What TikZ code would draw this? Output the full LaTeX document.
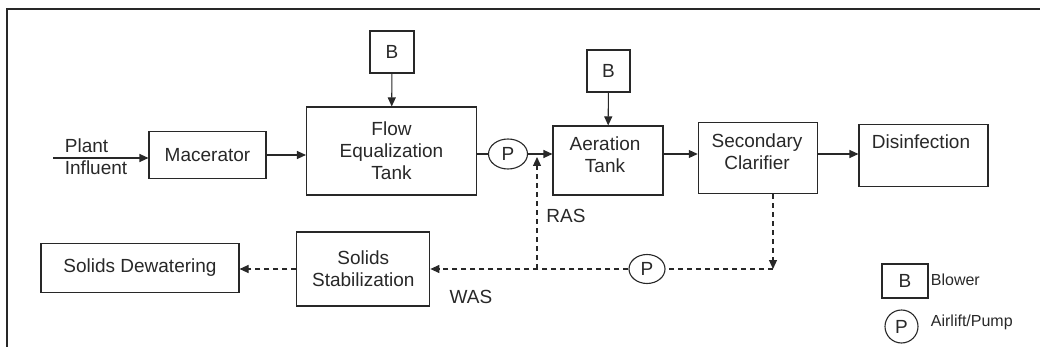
\documentclass[tikz,border=0pt]{standalone}
\usepackage{fontspec}
\setmainfont{Liberation Sans}
\usepackage{tikz}
\usetikzlibrary{arrows.meta,shapes.geometric}
\definecolor{linegray}{RGB}{40,40,40}

\begin{document}
\begin{tikzpicture}[x=1pt,y=-1pt,line width=1.1pt,color=linegray,
  font=\fontsize{19}{22}\selectfont,
  unit/.style={draw,inner sep=2pt,align=center},
  pump/.style={draw,ellipse,inner sep=0pt},
  flow/.style={-{Triangle[length=9pt,width=8pt]}},
  sludge/.style={dash pattern=on 5pt off 4pt},
  legtext/.style={anchor=west,font=\fontsize{16}{19}\selectfont}]
\useasboundingbox (0,0) rectangle (1040,347);
\draw (7,347) -- (7,9) -- (1040,9);

\node[unit,minimum width=117,minimum height=47] (mac) at (207.5,155) {Macerator};
\node[align=left,anchor=west] (plant) at (61,157) {Plant\\Influent};
\coordinate (inlet) at (53,158);
\node[unit,minimum width=170,minimum height=88] (feq) at (391.5,151) {Flow\\Equalization\\Tank};
\node[unit,minimum width=44,minimum height=42] (b1) at (392,52) {B};
\node[pump,minimum width=39,minimum height=30] (p1) at (508,154) {P};
\node[unit,minimum width=110,minimum height=69] (aer) at (608,160.5) {};
\node[align=center] (aertxt) at (605,155) {Aeration\\Tank};
\node[unit,minimum width=43,minimum height=42] (b2) at (608.5,71) {B};
\node[unit,minimum width=119,minimum height=71] (clar) at (757.8,158) {};
\node[align=center] (clartxt) at (757,152) {Secondary\\Clarifier};
\node[unit,minimum width=129,minimum height=62] (dis) at (923.5,155.3) {};
\node (distxt) at (921,142) {Disinfection};

\node[unit,minimum width=133,minimum height=74] (solstab) at (363.3,269) {Solids\\Stabilization};
\node[unit,minimum width=198,minimum height=49] (soldew) at (140,268) {Solids Dewatering};
\node[pump,minimum width=36,minimum height=29] (p2) at (647,269) {P};
\coordinate (drop) at (773,269);
\coordinate (ras) at (537,269);
\node (raslbl) at (566,216) {RAS};
\node (waslbl) at (471,297) {WAS};

\draw[flow] (inlet) -- (inlet -| mac.west);
\draw[flow] (mac.east) -- (mac.east -| feq.west);
\draw[flow] (b1) -- (feq);
\draw (p1.west -| feq.east) -- (p1.west);
\draw[flow] (p1.east) -- (p1.east -| aer.west);
\draw[flow] (b2) -- (aer);
\draw[flow] (p1 -| aer.east) -- (p1 -| clar.west);
\draw[flow] (p1 -| clar.east) -- (p1 -| dis.west);

\draw[flow,sludge] (clar.south -| drop) -- (drop);
\draw[sludge] (drop) -- (p2.east);
\draw[flow,sludge] (p2.west) -- (solstab.east);
\draw[flow,sludge] (ras) -- ([yshift=-3pt]ras |- p1);
\draw[flow,sludge] (solstab.west) -- (solstab.west -| soldew.east);

\node[unit,minimum width=46,minimum height=34] (legb) at (905,281) {B};
\node[legtext] (legbtxt) at (927,280) {Blower};
\node[pump,minimum width=33,minimum height=33] (legp) at (901.5,326.5) {P};
\node[legtext] (legptxt) at (927,322) {Airlift/Pump};
\end{tikzpicture}
\end{document}
